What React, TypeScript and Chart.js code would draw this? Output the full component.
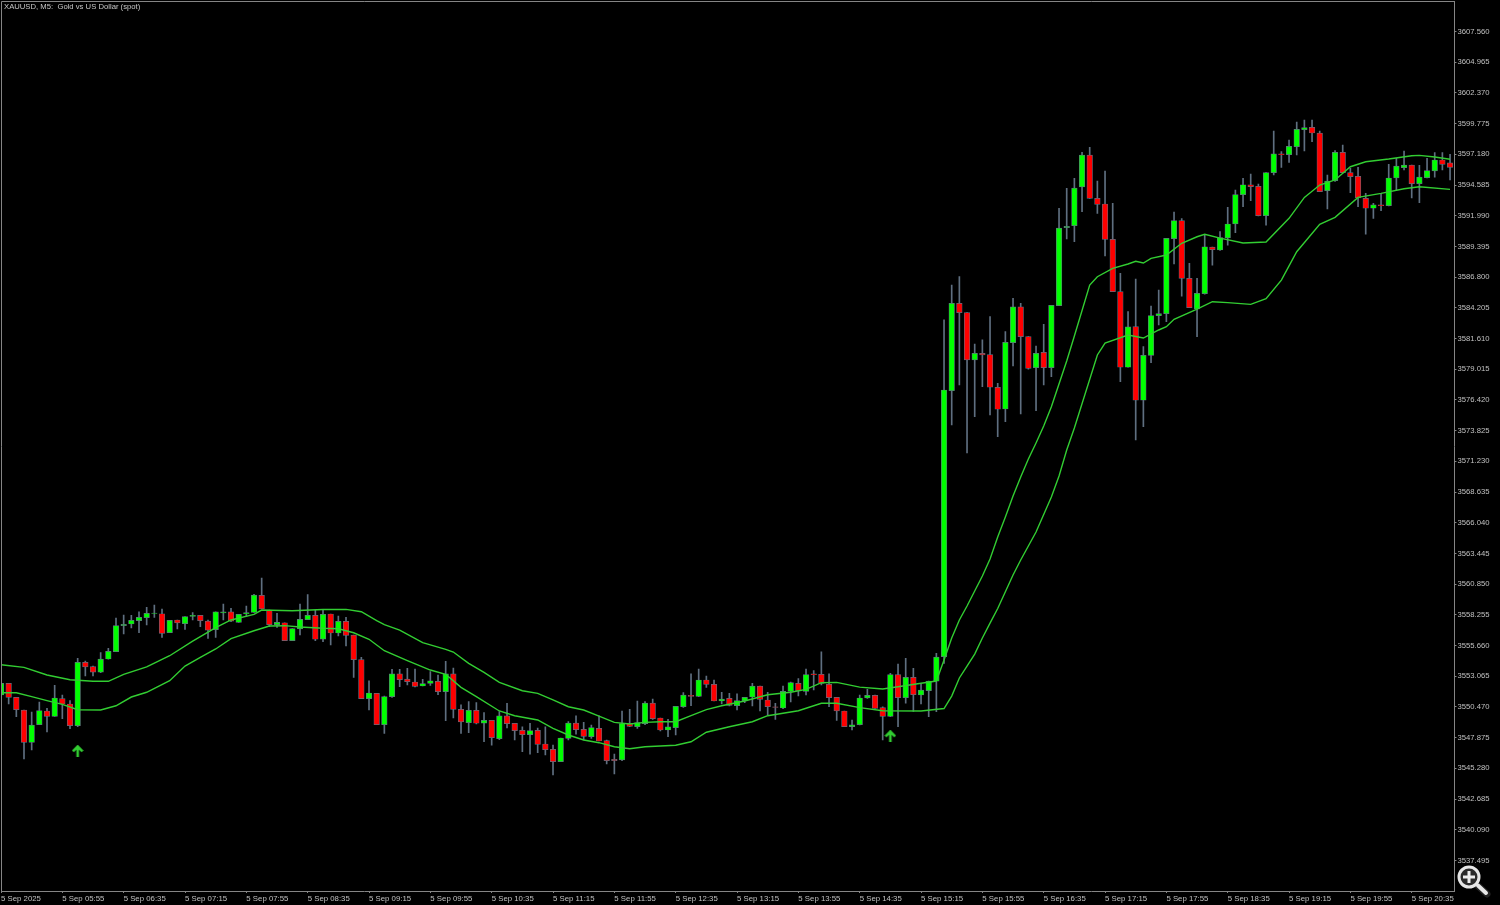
import React, { useEffect, useRef } from "react";
import { Chart, registerables } from "chart.js";

Chart.register(...registerables);

const chartTitle = "XAUUSD, M5:  Gold vs US Dollar (spot)";

const opens = [
  3551.48,3552.47,3551.28,3550.21,3547.48,3548.97,3550.13,3549.68,3551.17,3550.72,
  3548.89,3554.24,3553.88,3553.42,3554.52,3555.14,3557.34,3557.48,3557.76,3558.02,
  3558.38,3558.35,3556.75,3557.82,3557.51,3558.13,3558.21,3557.73,3557.00,3558.41,
  3558.50,3557.62,3558.33,3558.47,3559.90,3558.66,3557.42,3557.59,3556.07,3557.06,
  3557.85,3558.21,3556.21,3558.33,3556.72,3557.71,3556.55,3554.47,3551.17,3551.62,
  3548.97,3551.34,3553.26,3552.83,3552.58,3552.24,3552.47,3552.64,3551.76,3553.26,
  3550.27,3549.14,3550.19,3549.11,3549.34,3547.79,3549.71,3549.09,3548.49,3548.13,
  3548.49,3547.34,3546.89,3545.85,3547.82,3549.11,3548.58,3547.96,3548.66,3547.62,
  3546.04,3545.99,3549.06,3548.80,3549.06,3550.80,3549.54,3548.52,3548.72,3550.49,
  3551.45,3551.37,3552.75,3552.38,3550.97,3551.20,3550.58,3551.00,3551.31,3552.24,
  3551.06,3550.49,3550.38,3551.79,3552.47,3551.79,3553.26,3553.23,3552.38,3551.28,
  3550.13,3548.80,3548.97,3551.23,3551.45,3550.41,3549.68,3553.20,3551.26,3552.97,
  3551.48,3551.85,3552.64,3554.72,3577.20,3584.59,3583.80,3579.80,3580.36,3580.25,
  3577.49,3575.65,3581.26,3584.28,3581.77,3579.15,3580.44,3579.15,3584.39,3590.98,
  3591.15,3594.42,3597.12,3593.46,3592.98,3589.99,3585.57,3579.18,3582.61,3576.39,
  3580.19,3583.54,3583.71,3590.05,3591.57,3586.70,3584.11,3585.40,3589.34,3589.09,
  3590.11,3591.29,3593.77,3594.61,3594.47,3591.99,3595.63,3597.21,3597.15,3597.82,
  3599.26,3599.46,3598.98,3594.11,3594.95,3597.35,3595.63,3595.32,3593.46,3592.62,
  3592.90,3592.84,3595.18,3596.05,3596.27,3594.70,3595.21,3595.77,3596.70,3596.45,
];

const closes = [
  3552.47,3551.28,3550.24,3547.48,3548.94,3550.16,3549.68,3551.23,3550.72,3548.89,
  3554.24,3553.85,3553.42,3554.52,3555.17,3557.34,3557.45,3557.79,3558.04,3558.38,
  3558.40,3556.69,3557.79,3557.57,3558.10,3558.21,3557.76,3556.97,3558.50,3558.50,
  3557.73,3558.30,3558.44,3559.93,3558.75,3557.42,3557.62,3556.07,3557.09,3557.88,
  3558.21,3556.19,3558.30,3556.72,3557.71,3556.52,3554.47,3551.17,3551.65,3548.97,
  3551.34,3553.26,3552.78,3552.61,3552.21,3552.44,3552.67,3551.76,3553.26,3550.27,
  3549.20,3550.19,3549.09,3549.34,3547.87,3549.71,3549.06,3548.47,3548.13,3548.47,
  3547.31,3546.86,3545.85,3547.85,3549.11,3548.55,3547.99,3548.72,3547.59,3545.93,
  3545.93,3549.06,3548.83,3549.14,3550.80,3549.48,3548.52,3548.78,3550.52,3551.48,
  3551.37,3552.75,3552.38,3550.97,3551.14,3550.61,3551.00,3551.28,3552.24,3551.11,
  3550.49,3550.44,3551.79,3552.52,3551.82,3553.20,3553.20,3552.47,3551.26,3550.13,
  3548.80,3548.95,3551.23,3551.45,3550.35,3549.68,3553.20,3551.26,3552.97,3551.51,
  3551.90,3552.66,3554.69,3577.26,3584.59,3583.80,3579.80,3580.36,3580.22,3577.49,
  3575.63,3581.29,3584.28,3581.77,3579.09,3580.36,3579.15,3584.42,3590.95,3591.09,
  3594.33,3597.12,3593.46,3592.95,3589.99,3585.57,3579.18,3582.59,3576.39,3580.19,
  3583.54,3583.71,3590.08,3591.57,3586.70,3584.22,3585.43,3589.37,3589.12,3590.14,
  3591.29,3593.77,3594.61,3594.45,3591.99,3595.63,3597.21,3597.15,3597.85,3599.29,
  3599.43,3598.98,3594.02,3594.92,3597.35,3595.63,3595.29,3593.49,3592.62,3592.90,
  3592.84,3595.18,3596.19,3596.27,3594.70,3595.26,3595.80,3596.70,3596.33,3596.08,
];

const highs = [
  3552.60,3552.47,3551.28,3550.21,3550.04,3550.89,3550.35,3552.30,3551.48,3551.00,
  3554.58,3554.35,3553.93,3555.06,3555.42,3557.99,3558.24,3558.21,3558.52,3558.89,
  3559.09,3558.75,3557.79,3557.82,3558.10,3558.44,3558.21,3557.82,3558.50,3559.17,
  3558.81,3558.30,3559.00,3559.99,3561.37,3558.66,3558.38,3557.59,3557.09,3559.17,
  3559.96,3558.66,3558.66,3558.33,3558.16,3558.05,3556.55,3554.67,3552.67,3551.62,
  3551.40,3553.65,3553.65,3553.74,3553.68,3552.80,3553.45,3553.17,3554.33,3553.76,
  3550.64,3550.92,3550.83,3549.99,3549.34,3550.07,3550.78,3549.09,3548.80,3549.09,
  3548.69,3548.80,3547.25,3547.85,3549.23,3549.71,3549.17,3548.94,3549.71,3547.68,
  3546.49,3550.13,3550.27,3550.97,3550.92,3551.14,3549.54,3549.42,3550.52,3551.68,
  3553.26,3553.68,3553.09,3552.75,3551.71,3551.62,3551.57,3551.28,3552.47,3552.24,
  3551.71,3550.78,3552.24,3552.58,3552.86,3553.68,3553.54,3555.14,3553.26,3551.28,
  3550.13,3549.37,3551.48,3551.96,3551.48,3550.49,3553.31,3554.10,3554.58,3553.73,
  3552.41,3552.66,3555.00,3583.18,3586.13,3586.84,3583.80,3581.15,3581.49,3583.46,
  3577.82,3582.19,3585.01,3584.59,3581.77,3580.98,3582.81,3584.42,3592.61,3594.30,
  3595.15,3597.35,3597.77,3594.92,3595.77,3593.04,3587.12,3583.88,3586.64,3580.92,
  3584.36,3585.71,3590.08,3592.30,3591.74,3587.97,3586.70,3590.36,3589.34,3590.64,
  3592.70,3594.16,3595.15,3595.51,3594.67,3595.63,3599.15,3597.40,3598.39,3599.91,
  3600.08,3600.08,3599.15,3595.43,3597.49,3597.97,3596.00,3596.08,3593.88,3593.04,
  3593.88,3596.33,3596.84,3597.46,3596.27,3596.25,3596.84,3597.32,3597.32,3597.18,
];

const lows = [
  3551.30,3550.72,3549.65,3546.07,3546.83,3548.97,3548.35,3549.68,3549.48,3548.63,
  3548.80,3553.09,3553.09,3553.37,3554.50,3555.14,3556.64,3557.14,3556.75,3557.40,
  3558.04,3556.35,3556.75,3557.06,3557.03,3557.82,3557.26,3556.27,3556.35,3557.82,
  3557.68,3557.62,3558.10,3558.47,3558.75,3557.26,3557.20,3556.07,3556.07,3556.55,
  3557.85,3556.07,3555.99,3555.71,3556.47,3555.62,3552.97,3551.17,3550.21,3548.97,
  3548.24,3551.28,3552.19,3552.33,3552.16,3552.24,3552.30,3551.51,3549.31,3549.54,
  3548.24,3548.30,3549.03,3547.54,3547.25,3547.70,3548.69,3547.68,3546.69,3546.49,
  3546.61,3546.41,3544.72,3545.85,3547.68,3548.18,3547.68,3547.82,3547.59,3545.65,
  3544.80,3545.93,3548.80,3548.66,3548.97,3549.42,3548.44,3547.96,3548.10,3550.44,
  3550.58,3551.34,3552.13,3550.97,3550.72,3550.55,3550.21,3550.83,3550.55,3550.13,
  3549.79,3549.42,3550.33,3550.89,3551.40,3551.48,3551.90,3552.33,3550.49,3549.34,
  3548.80,3548.52,3548.95,3551.20,3550.35,3547.68,3549.65,3548.80,3550.78,3550.10,
  3550.72,3549.65,3550.07,3554.16,3574.30,3577.68,3571.94,3575.01,3577.54,3575.15,
  3573.32,3574.58,3579.29,3575.23,3579.01,3575.51,3577.68,3578.39,3584.39,3590.02,
  3589.80,3592.33,3593.46,3592.19,3588.59,3585.57,3577.96,3579.18,3573.03,3574.16,
  3579.57,3582.75,3583.04,3587.91,3585.20,3584.22,3581.77,3585.35,3587.82,3589.06,
  3589.51,3590.56,3592.76,3593.26,3591.97,3591.20,3595.43,3596.08,3596.50,3597.12,
  3597.46,3598.25,3594.02,3592.56,3594.89,3595.60,3593.94,3592.76,3590.44,3591.77,
  3592.42,3592.81,3594.16,3595.85,3593.49,3593.09,3595.18,3595.24,3595.85,3595.01,
];

const upperBars = [0,3,6,9,12,14,16,19,22,25,28,30,33,34,38,42,45,47,49,50,52,55,58,59,61,63,65,68,70,72,74,76,78,80,82,84,86,88,90,92,94,97,100,103,105,107,109,112,115,117,120,122,123,124,125,126,127,128,129,130,131,132,133,134,135,136,137,139,140,142,143,145,147,148,149,150,152,154,156,157,159,162,165,168,170,172,174,176,178,181,184,185,187,189];
const upperVals = [3554.04,3553.82,3553.17,3552.77,3552.64,3552.64,3553.23,3553.85,3554.80,3556.04,3557.17,3557.82,3558.30,3558.66,3558.60,3558.71,3558.72,3558.52,3557.76,3557.42,3556.97,3555.90,3555.34,3555.11,3554.16,3553.40,3552.55,3551.84,3551.62,3551.06,3550.49,3550.21,3549.70,3549.17,3549.03,3549.17,3549.22,3549.22,3549.73,3550.24,3550.57,3550.97,3551.50,3551.71,3551.96,3552.52,3552.55,3552.15,3551.99,3552.18,3552.47,3552.66,3554.44,3556.30,3557.82,3559.00,3560.27,3561.54,3562.97,3564.83,3566.52,3568.30,3569.90,3571.43,3572.78,3574.21,3575.85,3579.71,3581.82,3586.13,3586.83,3587.54,3587.91,3588.14,3587.99,3588.39,3588.67,3589.66,3590.21,3590.42,3590.10,3589.68,3589.77,3591.77,3593.54,3594.58,3595.01,3596.13,3596.55,3596.78,3597.06,3597.09,3596.95,3596.76];

const lowerBars = [0,2,4,6,8,10,13,15,17,19,22,24,26,28,30,33,35,37,39,42,44,46,48,50,53,56,58,60,62,65,67,70,72,74,76,78,80,82,84,88,90,92,95,98,100,104,107,109,112,115,120,123,124,125,126,127,128,129,130,132,133,135,137,138,139,140,143,144,147,149,151,152,153,156,158,160,163,165,167,169,172,174,177,180,183,185,189];
const lowerVals = [3551.67,3551.67,3551.34,3551.00,3550.69,3550.24,3550.21,3550.57,3551.31,3551.71,3552.69,3553.93,3554.66,3555.37,3556.24,3556.91,3557.31,3557.34,3557.23,3557.12,3557.08,3556.74,3556.19,3555.22,3554.38,3553.59,3553.23,3552.13,3551.34,3550.13,3549.73,3549.37,3548.66,3548.10,3547.68,3547.45,3547.11,3546.94,3547.11,3547.23,3547.53,3548.33,3548.80,3549.22,3549.73,3550.15,3550.78,3550.78,3550.41,3550.15,3550.13,3550.34,3551.39,3552.92,3553.93,3554.94,3556.30,3557.56,3558.79,3561.62,3562.89,3565.26,3568.21,3569.99,3572.19,3574.05,3580.22,3581.23,3581.91,3581.65,3582.33,3582.61,3583.23,3584.10,3584.72,3584.64,3584.50,3584.97,3586.55,3588.95,3591.26,3591.85,3593.54,3593.88,3594.27,3594.44,3594.22];

const arrowBars = [10, 116];
const arrowPrices = [3546.75, 3548.01];

const priceTicks = [3607.56,3604.965,3602.37,3599.775,3597.18,3594.585,3591.99,3589.395,3586.8,3584.205,3581.61,3579.015,3576.42,3573.825,3571.23,3568.635,3566.04,3563.445,3560.85,3558.255,3555.66,3553.065,3550.47,3547.875,3545.28,3542.685,3540.09,3537.495];

const timeTickBars = [0,8,16,24,32,40,48,56,64,72,80,88,96,104,112,120,128,136,144,152,160,168,176,184];
const timeTickLabels = ["5 Sep 2025","5 Sep 05:55","5 Sep 06:35","5 Sep 07:15","5 Sep 07:55","5 Sep 08:35","5 Sep 09:15","5 Sep 09:55","5 Sep 10:35","5 Sep 11:15","5 Sep 11:55","5 Sep 12:35","5 Sep 13:15","5 Sep 13:55","5 Sep 14:35","5 Sep 15:15","5 Sep 15:55","5 Sep 16:35","5 Sep 17:15","5 Sep 17:55","5 Sep 18:35","5 Sep 19:15","5 Sep 19:55","5 Sep 20:35"];

const FONT = "'Liberation Sans', Arial, sans-serif";
const GRAY = "#858585";
const LIME = "#32cd32";
const WICK = "#5f6f80";

function makeArrow(): HTMLCanvasElement {
  const c = document.createElement("canvas");
  c.width = 12;
  c.height = 12;
  const g = c.getContext("2d")!;
  g.strokeStyle = LIME;
  g.lineWidth = 2.6;
  g.beginPath();
  g.moveTo(6, 12);
  g.lineTo(6, 1.5);
  g.moveTo(1.2, 6.4);
  g.lineTo(6, 1.5);
  g.lineTo(10.8, 6.4);
  g.stroke();
  return c;
}

const frame = {
  id: "frame",
  afterDraw(chart: any) {
    const { ctx, chartArea: a } = chart;
    ctx.save();
    ctx.strokeStyle = GRAY;
    ctx.lineWidth = 1;
    ctx.beginPath();
    ctx.moveTo(a.left + 0.5, a.bottom);
    ctx.lineTo(a.left + 0.5, a.top + 0.5);
    ctx.lineTo(a.right, a.top + 0.5);
    ctx.stroke();
    ctx.fillStyle = "#c8c8c8";
    ctx.font = `7.7px ${FONT}`;
    ctx.textBaseline = "middle";
    ctx.textAlign = "left";
    ctx.fillText(chartTitle, 4, 6.5);
    ctx.restore();
  },
};

const zeroPad = (s: any) => {
  s.paddingLeft = 0;
  s.paddingRight = 0;
  s.paddingTop = 0;
  s.paddingBottom = 0;
};

export default function App() {
  const ref = useRef<HTMLCanvasElement>(null);
  useEffect(() => {
    const bars = opens.map((_, i) => i);
    const chart = new Chart(ref.current!, {
      type: "bar",
      plugins: [frame],
      data: {
        datasets: [
          {
            type: "line",
            label: "upper",
            order: 2,
            data: upperBars.map((x, i) => ({ x, y: upperVals[i] })),
            borderColor: LIME,
            borderWidth: 1.4,
            pointRadius: 0,
            tension: 0,
          },
          {
            type: "line",
            label: "lower",
            order: 2,
            data: lowerBars.map((x, i) => ({ x, y: lowerVals[i] })),
            borderColor: LIME,
            borderWidth: 1.4,
            pointRadius: 0,
            tension: 0,
          },
          {
            type: "scatter",
            label: "signal",
            order: 1,
            data: arrowBars.map((x, i) => ({ x, y: arrowPrices[i] })),
            pointStyle: makeArrow(),
            pointRadius: 6,
            showLine: false,
          },
          {
            label: "wick",
            order: 4,
            grouped: false,
            barThickness: 1,
            data: bars.map((i) => ({ x: i, y: [lows[i], highs[i]] })),
            backgroundColor: WICK,
            borderWidth: 0,
          },
          {
            label: "body",
            order: 3,
            grouped: false,
            barThickness: 5.6,
            data: bars.map((i) => ({ x: i, y: [opens[i], closes[i]] })),
            backgroundColor: bars.map((i) => (closes[i] >= opens[i] ? "#00ff00" : "#ff0000")),
            borderColor: WICK,
            borderWidth: 0.7,
            borderSkipped: false,
          },
        ] as any,
      },
      options: {
        animation: false,
        responsive: false,
        devicePixelRatio: 1,
        layout: { autoPadding: false, padding: { left: 1, top: 1, right: 0, bottom: 0 } },
        plugins: {
          legend: { display: false },
          title: { display: false },
          tooltip: { enabled: false },
        },
        scales: {
          x: {
            type: "linear",
            position: "bottom",
            offset: false,
            min: 0,
            max: 189.58,
            grid: { offset: false, drawOnChartArea: false, drawTicks: true, tickLength: 2, tickColor: GRAY },
            border: { display: true, color: GRAY, width: 1 },
            afterBuildTicks: (s: any) => {
              s.ticks = timeTickBars.map((value) => ({ value }));
            },
            afterFit: (s: any) => {
              s.height = 14;
              zeroPad(s);
            },
            ticks: {
              autoSkip: false,
              maxRotation: 0,
              minRotation: 0,
              align: "start",
              padding: 1,
              color: "#c0c0c0",
              font: { family: FONT, size: 7.8 },
              callback: (v: any) => timeTickLabels[timeTickBars.indexOf(Number(v))],
            },
          },
          y: {
            type: "linear",
            position: "right",
            min: 3534.915,
            max: 3610.137,
            grid: { drawOnChartArea: false, drawTicks: true, tickLength: 2, tickColor: GRAY },
            border: { display: true, color: GRAY, width: 1 },
            afterBuildTicks: (s: any) => {
              s.ticks = priceTicks.map((value) => ({ value }));
            },
            afterFit: (s: any) => {
              s.width = 45.5;
              zeroPad(s);
            },
            ticks: {
              autoSkip: false,
              padding: 1,
              color: "#c0c0c0",
              font: { family: FONT, size: 7.7 },
              callback: (v: any) => Number(v).toFixed(3),
            },
          },
        },
      } as any,
    });
    return () => chart.destroy();
  }, []);

  return (
    <div style={{ position: "fixed", left: 0, top: 0, width: 1500, height: 905, background: "#000", overflow: "hidden" }}>
      <canvas ref={ref} width={1500} height={905} style={{ display: "block", background: "#000" }} />
      <svg width={1500} height={905} style={{ position: "absolute", left: 0, top: 0, pointerEvents: "none" }}>
        <line x1={1477} y1={885} x2={1487} y2={894} stroke="#222" strokeWidth={7} strokeLinecap="round" />
        <line x1={1478} y1={885.5} x2={1486} y2={893} stroke="#e6e6e6" strokeWidth={4} strokeLinecap="round" />
        <circle cx={1469} cy={877} r={10} fill="#2b2b2b" stroke="#e6e6e6" strokeWidth={3} />
        <rect x={1463} y={875.5} width={12} height={3} fill="#eee" />
        <rect x={1467.5} y={871} width={3} height={12} fill="#eee" />
      </svg>
    </div>
  );
}
